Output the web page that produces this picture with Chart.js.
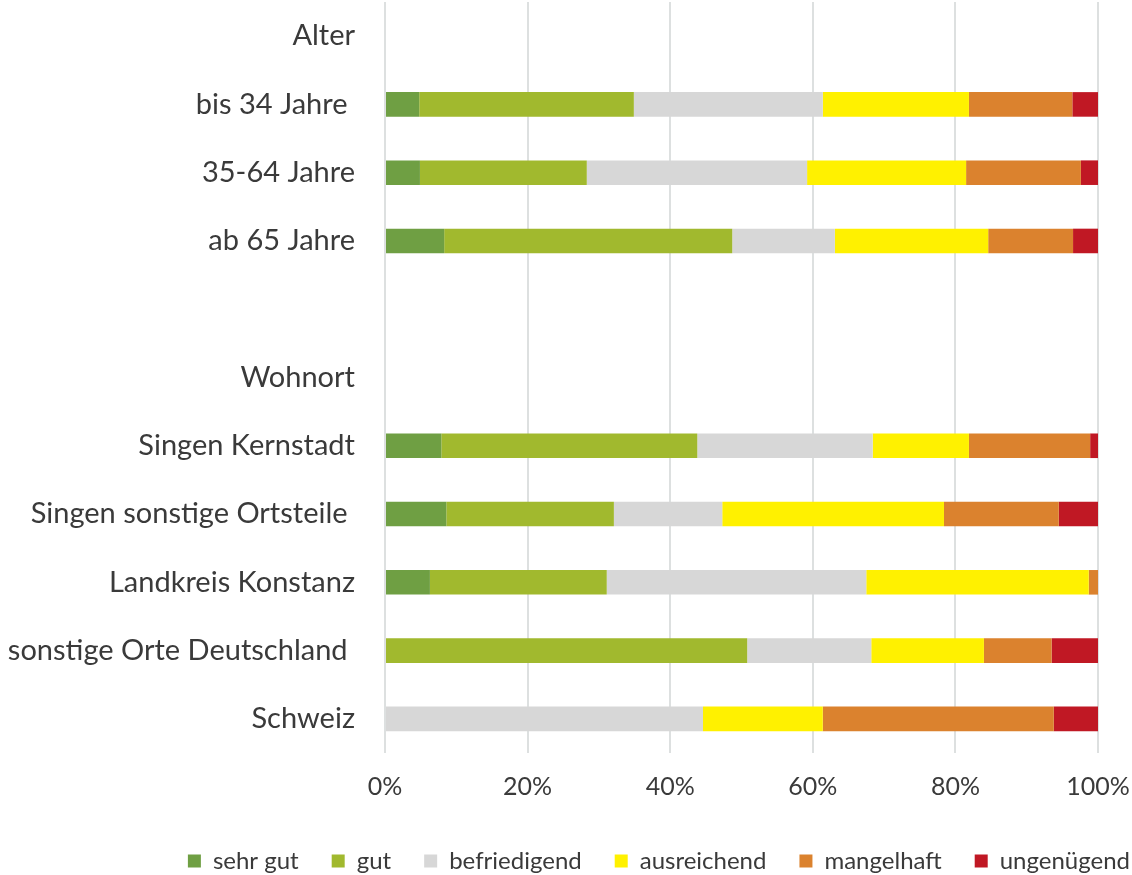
<!DOCTYPE html>
<html>
<head>
<meta charset="utf-8">
<script src="https://cdn.jsdelivr.net/npm/chart.js@4"></script>
<style>
  html, body { margin: 0; padding: 0; background: #fff; }
  #wrap { width: 1132px; height: 875px; }
</style>
</head>
<body>
<div id="wrap"><canvas id="chart" width="1132" height="875"></canvas></div>
<script>
// categories (header rows and one blank spacer row have no values)
const categories = [
  'Alter', 'bis 34 Jahre ', '35-64 Jahre', 'ab 65 Jahre', '',
  'Wohnort', 'Singen Kernstadt', 'Singen sonstige Ortsteile ',
  'Landkreis Konstanz', 'sonstige Orte Deutschland ', 'Schweiz'
];

// shares in percent, one array per rating
const sehrGut      = [null, 4.8, 4.9, 8.3, null, null, 7.9, 8.6, 6.3, 0, 0];
const gut          = [null, 30.1, 23.4, 40.4, null, null, 35.9, 23.5, 24.8, 50.8, 0];
const befriedigend = [null, 26.5, 30.9, 14.4, null, null, 24.6, 15.2, 36.4, 17.4, 44.6];
const ausreichend  = [null, 20.5, 22.3, 21.5, null, null, 13.5, 31.1, 31.2, 15.8, 16.8];
const mangelhaft   = [null, 14.5, 16.1, 11.9, null, null, 17.0, 16.1, 1.3, 9.5, 32.4];
const ungenuegend  = [null, 3.6, 2.4, 3.5, null, null, 1.1, 5.5, 0, 6.5, 6.2];

const xTicks = [0, 20, 40, 60, 80, 100];

const FONT = 'Lato, "Open Sans", sans-serif';
const TEXT = '#3a3a3a';

const series = [
  { label: 'sehr gut', data: sehrGut, color: '#6f9f43' },
  { label: 'gut', data: gut, color: '#a1b92e' },
  { label: 'befriedigend', data: befriedigend, color: '#d7d7d7' },
  { label: 'ausreichend', data: ausreichend, color: '#fff100' },
  { label: 'mangelhaft', data: mangelhaft, color: '#db822e' },
  { label: 'ungenügend', data: ungenuegend, color: '#c01824' }
];

new Chart(document.getElementById('chart'), {
  type: 'bar',
  data: {
    labels: categories,
    datasets: series.map(s => ({
      label: s.label,
      data: s.data,
      backgroundColor: s.color,
      borderWidth: 0,
      categoryPercentage: 1,
      barPercentage: 0.36
    }))
  },
  options: {
    indexAxis: 'y',
    responsive: false,
    animation: false,
    // negative right/bottom padding lets the legend run to the canvas edge
    layout: { padding: { top: 2, right: -31, bottom: -8, left: 0 } },
    plugins: {
      tooltip: { enabled: false },
      legend: {
        position: 'bottom',
        align: 'end',
        labels: {
          boxWidth: 13,
          boxHeight: 13,
          padding: 33,
          color: TEXT,
          font: { family: FONT, size: 24 }
        }
      }
    },
    scales: {
      x: {
        stacked: true,
        min: 0,
        max: 100,
        afterBuildTicks: (scale) => { scale.ticks = xTicks.map(v => ({ value: v })); },
        afterFit: (scale) => {
          scale.height = 63;
          scale.paddingLeft = 0;
          scale.paddingRight = 34;
        },
        border: { display: false },
        grid: { color: '#dde0e0', lineWidth: 2, drawTicks: false },
        ticks: {
          padding: 19,
          color: TEXT,
          font: { family: FONT, size: 25 },
          callback: (v) => v + '%'
        }
      },
      y: {
        stacked: true,
        afterFit: (scale) => {
          scale.width = 385;
          scale.paddingTop = 0;
          scale.paddingBottom = 0;
        },
        border: { display: false },
        grid: { display: false, drawTicks: false },
        ticks: {
          padding: 30,
          autoSkip: false,
          color: TEXT,
          font: { family: FONT, size: 29 }
        }
      }
    }
  }
});
</script>
</body>
</html>
